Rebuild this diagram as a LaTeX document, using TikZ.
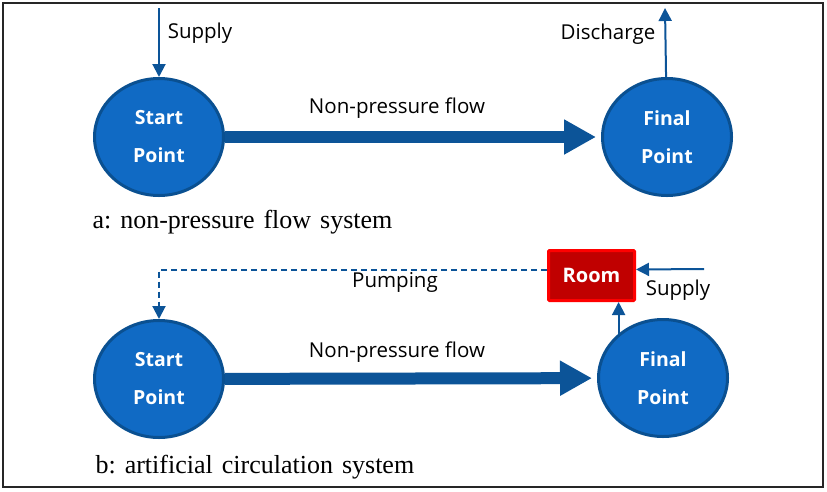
\documentclass[tikz,border=0pt]{standalone}
\usepackage{fontspec}
\setmainfont{Open Sans}
\newfontfamily\capfont{Liberation Serif}
\usetikzlibrary{arrows.meta,shapes.geometric}
\definecolor{ptfill}{RGB}{16,106,196}
\definecolor{ptedge}{RGB}{10,80,145}
\definecolor{flowblue}{RGB}{12,84,152}
\definecolor{roomfill}{RGB}{192,0,0}
\definecolor{roomedge}{RGB}{255,0,0}
\tikzset{
  point/.style={ellipse, draw=ptedge, fill=ptfill, line width=3pt, minimum width=129pt, minimum height=117pt, text=white, align=center, font=\bfseries\fontsize{19.5}{38}\selectfont},
  roombox/.style={rectangle, draw=roomedge, fill=roomfill, line width=3pt, minimum width=86pt, minimum height=50pt, text=white, rounded corners=1pt, font=\bfseries\fontsize{20}{23}\selectfont},
  pipe/.style={draw=flowblue, line width=2pt, -{Triangle[width=13pt,length=13pt]}},
  flow/.style={draw=flowblue, line width=12pt, -{Triangle[width=33pt,length=32pt]}},
  lbl/.style={font=\fontsize{20.5}{24}\selectfont},
  caption/.style={anchor=base west, font=\capfont\fontsize{26}{30}\selectfont},
}

\begin{document}
\begin{tikzpicture}[x=1pt, y=-1pt]
    \useasboundingbox (0,0) rectangle (827,491);
    \draw[black!85, line width=1.8pt] (3,3) rectangle (823,487);
    % a: non-pressure flow
    \node[point] (start1) at (159,137) {Start\\Point};
    \node[point] (final1) at (667,137) {Final\\Point};
    \coordinate (in1) at (159,8);
    \coordinate (out1) at (665,8);
    \draw[pipe] (in1) -- (start1);
    \draw[pipe] (final1) -- (out1);
    \draw[flow, shorten >=5pt] (start1) -- (final1);
    \node[lbl] (supply1) at (200,33) {Supply};
    \node[lbl] (discharge) at (608,34) {Discharge};
    \node[lbl] (flow1) at (397,108) {Non-pressure flow};
    \node[caption] (capa) at (89,228) {a:\hspace{9pt}non-pressure\hspace{9pt}flow\hspace{9pt}system};
    % b: artificial circulation
    \node[point] (start2) at (159,379) {Start\\Point};
    \node[point] (final2) at (663,378) {Final\\Point};
    \node[roombox] (room) at (591.5,275.5) {Room};
    \coordinate (in2) at (704,269);
    \draw[pipe] (in2) -- ([yshift=6pt]room.east);
    \draw[pipe] (final2.135) -- (final2.135 |- room.south);
    \draw[pipe, dash pattern=on 6pt off 4pt] ([yshift=6pt]room.west) -| (start2);
    \draw[flow, shorten >=5pt] (start2) -- (final2);
    \node[lbl] (supply2) at (678,290) {Supply};
    \node[lbl] (pumping) at (395,282) {Pumping};
    \node[lbl] (flow2) at (397,352) {Non-pressure flow};
    \node[caption] (capb) at (92,473) {b:\hspace{9pt}artificial\hspace{9pt}circulation\hspace{9pt}system};
\end{tikzpicture}
\end{document}
